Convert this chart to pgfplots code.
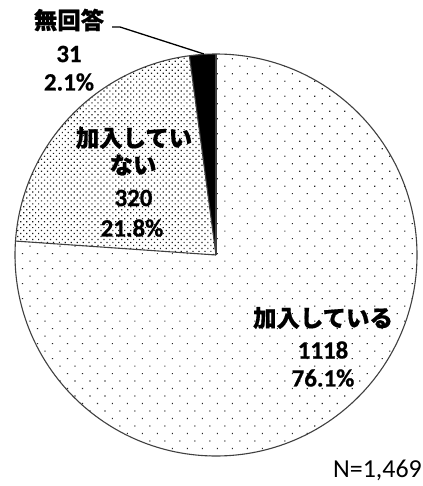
\documentclass[border=0pt]{standalone}
\usepackage{fontspec}
\setmainfont{Carlito}[BoldFeatures={FakeBold=0.6}]
\newfontfamily\jp{Noto Sans CJK JP}[BoldFeatures={FakeBold=0.6}]
\usepackage{pgfplots}
\usepackage{pgfplotstable}
\pgfplotsset{compat=1.18}
\usetikzlibrary{patterns.meta}
\pgfplotstableread{
id value
1 1118
2 320
3 31
}\pietable
\begin{document}
\begin{tikzpicture}
\pgfplotstablegetelem{0}{value}\of\pietable \edef\va{\pgfplotsretval}
\pgfplotstablegetelem{1}{value}\of\pietable \edef\vb{\pgfplotsretval}
\pgfplotstablegetelem{2}{value}\of\pietable \edef\vc{\pgfplotsretval}
\pgfmathsetmacro\tot{\va+\vb+\vc}
\pgfmathsetmacro\aA{90-360*(\va/\tot)}
\pgfmathsetmacro\aB{\aA-360*(\vb/\tot)}
\path[use as bounding box] (0,0) rectangle (423bp,486bp);
\begin{axis}[
  at={(0,0)}, anchor=south west,
  scale only axis, width=423bp, height=486bp,
  xmin=0, xmax=423, ymin=0, ymax=486, y dir=reverse,
  hide axis, clip=false,
]
\def\R{201bp}
% slice 1
\fill[white] (axis cs:216,255) -- ++(90:\R) arc[start angle=90, end angle=\aA, radius=\R] -- cycle;
\fill[pattern={Dots[angle=45, distance=10.6bp, radius=0.8bp]}, pattern color=black!85] (axis cs:216,255) -- ++(90:\R) arc[start angle=90, end angle=\aA, radius=\R] -- cycle;
% slice 2
\fill[white] (axis cs:216,255) -- ++(\aA:\R) arc[start angle=\aA, end angle=\aB, radius=\R] -- cycle;
\fill[pattern={Dots[angle=45, distance=4.2bp, radius=0.85bp]}, pattern color=black!90] (axis cs:216,255) -- ++(\aA:\R) arc[start angle=\aA, end angle=\aB, radius=\R] -- cycle;
% slice 3
\fill[black] (axis cs:216,255) -- ++(\aB:\R) arc[start angle=\aB, end angle=-270, radius=\R] -- cycle;
% outlines
\draw[black!75, line width=1.1bp] (axis cs:216,255) -- ++(90:\R);
\draw[black!75, line width=1.1bp] (axis cs:216,255) -- ++(\aA:\R);
\draw[black!75, line width=1.1bp] (axis cs:216,255) -- ++(\aB:\R);
\draw[black!75, line width=1.1bp] (axis cs:216,255) circle[radius=\R];
% leader line
\draw[black, line width=1.3bp] (axis cs:112,27) -- (axis cs:120,27) -- (axis cs:204,54);
% labels
\node[font=\jp\bfseries\fontsize{23.5}{26}\selectfont] at (axis cs:69,20) {無回答};
\node[font=\bfseries\fontsize{25}{28}\selectfont] at (axis cs:69,54) {31};
\node[font=\bfseries\fontsize{25}{28}\selectfont] at (axis cs:69,82) {2.1\%};
\node[font=\jp\bfseries\fontsize{23.5}{26}\selectfont] at (axis cs:134,138) {加入してい};
\node[font=\jp\bfseries\fontsize{23.5}{26}\selectfont] at (axis cs:133,165) {ない};
\node[font=\bfseries\fontsize{25}{28}\selectfont] at (axis cs:133.5,198) {320};
\node[font=\bfseries\fontsize{25}{28}\selectfont] at (axis cs:132,228) {21.8\%};
\node[font=\jp\bfseries\fontsize{23.5}{26}\selectfont] at (axis cs:323,318) {加入している};
\node[font=\bfseries\fontsize{25}{28}\selectfont] at (axis cs:323,350) {1118};
\node[font=\bfseries\fontsize{25}{28}\selectfont] at (axis cs:323,378) {76.1\%};
\node[font=\fontsize{26}{28}\selectfont, anchor=east, inner sep=0pt] at (axis cs:422,470) {N=1,469};
\end{axis}
\end{tikzpicture}
\end{document}
